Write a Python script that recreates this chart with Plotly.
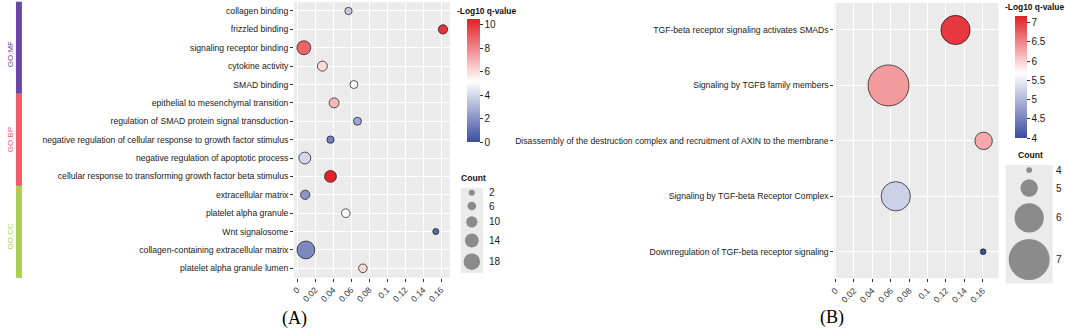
import plotly.graph_objects as go

W, H = 1065, 328

# ---------------- Panel A: GO enrichment ----------------
a_terms = [
    "collagen binding",
    "frizzled binding",
    "signaling receptor binding",
    "cytokine activity",
    "SMAD binding",
    "epithelial to mesenchymal transition",
    "regulation of SMAD protein signal transduction",
    "negative regulation of cellular response to growth factor stimulus",
    "negative regulation of apoptotic process",
    "cellular response to transforming growth factor beta stimulus",
    "extracellular matrix",
    "platelet alpha granule",
    "Wnt signalosome",
    "collagen-containing extracellular matrix",
    "platelet alpha granule lumen",
]
a_ontology = ["GO:MF", "GO:MF", "GO:MF", "GO:MF", "GO:MF",
              "GO:BP", "GO:BP", "GO:BP", "GO:BP", "GO:BP",
              "GO:CC", "GO:CC", "GO:CC", "GO:CC", "GO:CC"]
a_ratio = [0.057, 0.162, 0.0074, 0.028, 0.063, 0.041, 0.067, 0.037, 0.0085,
           0.037, 0.0089, 0.054, 0.154, 0.0097, 0.073]
a_logq = [3.6, 10.0, 8.8, 6.0, 5.2, 6.8, 2.6, 1.5, 4.0, 10.4, 2.1, 5.3, 0.8, 1.7, 6.1]
a_count = [4, 7, 14, 8, 5, 8, 5, 4, 11, 11, 7, 6, 2, 20, 6]
a_legend_counts = [2, 6, 10, 14, 18]
a_cbar_ticks = [0, 2, 4, 6, 8, 10]

# ---------------- Panel B: Reactome enrichment ----------------
b_terms = [
    "TGF-beta receptor signaling activates SMADs",
    "Signaling by TGFB family members",
    "Disassembly of the destruction complex and recruitment of AXIN to the membrane",
    "Signaling by TGF-beta Receptor Complex",
    "Downregulation of TGF-beta receptor signaling",
]
b_ratio = [0.1305, 0.0577, 0.161, 0.0656, 0.1605]
b_logq = [7.0, 6.35, 6.25, 5.25, 4.02]
b_count = [6, 7, 5, 6, 4]
b_legend_counts = [4, 5, 6, 7]
b_cbar_ticks = [4, 4.5, 5, 5.5, 6, 6.5, 7]

x_ticks = [0, 0.02, 0.04, 0.06, 0.08, 0.1, 0.12, 0.14, 0.16]
x_ticktext = ["0", "0.02", "0.04", "0.06", "0.08", "0.1", "0.12", "0.14", "0.16"]

onto_colors = {"GO:MF": "#6A46A5", "GO:BP": "#F25A6B", "GO:CC": "#AACF52"}

FONT = "Liberation Sans"


def px(x):
    return x / W


def py(y):
    return 1 - y / H


def size_a(c):
    return 6 + (c - 2) * (16.5 - 6) / (18 - 2)


def size_b(c):
    return 5.7 + (c - 4) * (41 - 5.7) / (7 - 4)


scale_a = [[0, "#3B4DA1"], [0.49, "#FFFFFF"], [1, "#E41E26"]]
scale_b = [[0, "#3B4DA1"], [0.53, "#FFFFFF"], [1, "#E41E26"]]

fig = go.Figure()

fig.add_trace(go.Scatter(
    x=a_ratio, y=a_terms, mode="markers", xaxis="x", yaxis="y", showlegend=False,
    marker=dict(
        size=[size_a(c) for c in a_count], color=a_logq, colorscale=scale_a,
        cmin=0, cmax=10.5, opacity=1, line=dict(color="#111", width=0.7),
        colorbar=dict(
            x=px(464), xanchor="left", y=py(19), yanchor="top",
            len=122.7, lenmode="pixels", thickness=12.7, thicknessmode="pixels",
            xpad=0, ypad=0, outlinewidth=0, tickvals=a_cbar_ticks,
            ticks="outside", ticklen=3, tickcolor="#333",
            tickfont=dict(size=10, color="#1a1a1a", family=FONT),
        ),
    ),
))

fig.add_trace(go.Scatter(
    x=b_ratio, y=b_terms, mode="markers", xaxis="x2", yaxis="y2", showlegend=False,
    marker=dict(
        size=[size_b(c) for c in b_count], color=b_logq, colorscale=scale_b,
        cmin=4, cmax=7.17, opacity=1, line=dict(color="#111", width=0.7),
        colorbar=dict(
            x=px(1015), xanchor="left", y=py(16), yanchor="top",
            len=122.3, lenmode="pixels", thickness=12.3, thicknessmode="pixels",
            xpad=0, ypad=0, outlinewidth=0, tickvals=b_cbar_ticks,
            ticktext=[f"{v:g}" for v in b_cbar_ticks],
            ticks="outside", ticklen=3, tickcolor="#333",
            tickfont=dict(size=10, color="#1a1a1a", family=FONT),
        ),
    ),
))


# --- size legends (drawn on an overlay pixel axis) ---
def stack(sizes, top, pad):
    centers, y = [], top
    for d in sizes:
        h = d + pad
        centers.append(y + h / 2)
        y += h
    return centers, y


shapes = []
annotations = []


def size_legend(counts, sfun, cx, top, pad, label_x, title_x, title_y):
    ds = [sfun(c) for c in counts]
    cys, bottom = stack(ds, top, pad)
    bw = max(ds) + 6
    shapes.append(dict(type="rect", xref="paper", yref="paper",
                       x0=px(cx - bw / 2), x1=px(cx + bw / 2), y0=py(bottom), y1=py(top + 1),
                       fillcolor="#EBEBEB", line=dict(width=0), layer="below"))
    fig.add_trace(go.Scatter(
        x=[cx] * len(counts), y=cys, mode="markers", xaxis="x3", yaxis="y3",
        showlegend=False, hoverinfo="skip",
        marker=dict(size=ds, color="#636363", line=dict(width=0)),
    ))
    for c, cy in zip(counts, cys):
        annotations.append(dict(text=str(c), x=px(label_x), y=py(cy), xref="paper", yref="paper",
                                xanchor="left", yanchor="middle", showarrow=False,
                                font=dict(size=10, color="#1a1a1a", family=FONT)))
    annotations.append(dict(text="<b>Count</b>", x=px(title_x), y=py(title_y), xref="paper", yref="paper",
                            xanchor="left", yanchor="middle", showarrow=False,
                            font=dict(size=8.6, color="#111", family=FONT)))


size_legend(a_legend_counts, size_a, 469, 186.7, 6, 484, 456, 178)
size_legend(b_legend_counts, size_b, 1029, 163.9, 6.5, 1054, 1016, 155)

# colorbar titles
for tx, ty in [(452, 11), (1003, 7)]:
    annotations.append(dict(text="<b>-Log10 q-value</b>", x=px(tx), y=py(ty), xref="paper", yref="paper",
                            xanchor="left", yanchor="middle", showarrow=False,
                            font=dict(size=8.4, color="#111", family=FONT)))

# ontology side bars
row_top, row_bottom = 1.7, 278
row_h = (row_bottom - row_top) / len(a_terms)
groups = []
for i, o in enumerate(a_ontology):
    if not groups or groups[-1][0] != o:
        groups.append([o, i, i])
    else:
        groups[-1][2] = i
label_offset = {"GO:MF": 6, "GO:BP": 0, "GO:CC": 4}
for o, i0, i1 in groups:
    y0 = row_top + i0 * row_h
    y1 = row_top + (i1 + 1) * row_h
    shapes.append(dict(type="rect", xref="paper", yref="paper", x0=px(11), x1=px(17),
                       y0=py(y1), y1=py(y0), fillcolor=onto_colors[o], line=dict(width=0)))
    annotations.append(dict(text=o, x=px(5.5), y=py((y0 + y1) / 2 + label_offset[o]), xref="paper", yref="paper",
                            textangle=-90, showarrow=False, xanchor="center", yanchor="middle",
                            font=dict(size=8, color=onto_colors[o], family=FONT)))

# panel backgrounds
for xr, yr in [("x", "y"), ("x2", "y2")]:
    shapes.append(dict(type="rect", xref=f"{xr} domain", yref=f"{yr} domain", x0=0, x1=1, y0=0, y1=1,
                       fillcolor="#EBEBEB", line=dict(width=0), layer="below"))

# panel letters
for txt, tx, ty in [("(A)", 291, 318), ("(B)", 831, 317)]:
    annotations.append(dict(text=txt, x=px(tx), y=py(ty), xref="paper", yref="paper",
                            xanchor="center", yanchor="middle", showarrow=False,
                            font=dict(size=18, color="#000", family="Liberation Serif")))

xcommon = dict(tickvals=x_ticks, ticktext=x_ticktext, tickangle=-45, ticks="outside", ticklen=3,
               tickwidth=1, tickcolor="#333", tickfont=dict(size=8.6, color="#333", family=FONT),
               showgrid=True, gridcolor="white", gridwidth=1, zeroline=False, showline=False,
               fixedrange=True)
ycommon = dict(type="category", ticks="outside", ticklen=3, tickwidth=1, tickcolor="#333",
               tickfont=dict(size=8.65, color="#1a1a1a", family=FONT), showgrid=True,
               gridcolor="white", gridwidth=1, zeroline=False, showline=False, autorange=False,
               fixedrange=True)

fig.update_layout(
    width=W, height=H, autosize=False,
    margin=dict(l=0, r=0, t=0, b=0),
    paper_bgcolor="white", plot_bgcolor="rgba(0,0,0,0)",
    font=dict(family=FONT),
    xaxis=dict(domain=[px(290.5), px(447)], range=[-0.0034, 0.1697], anchor="y", **xcommon),
    yaxis=dict(domain=[py(277.5), py(2.3)], anchor="x", categoryorder="array", categoryarray=a_terms,
               range=[len(a_terms) - 1 + 0.5, -0.473], **ycommon),
    xaxis2=dict(domain=[px(833.3), px(998.3)], range=[-0.0011, 0.1773], anchor="y2", **xcommon),
    yaxis2=dict(domain=[py(278.3), py(3)], anchor="x2", categoryorder="array", categoryarray=b_terms,
                range=[len(b_terms) - 1 + 0.48, -0.487], **ycommon),
    xaxis3=dict(domain=[0, 1], range=[0, W], visible=False, anchor="y3", fixedrange=True),
    yaxis3=dict(domain=[0, 1], range=[H, 0], visible=False, anchor="x3", fixedrange=True),
    shapes=shapes,
    annotations=annotations,
)

fig.write_html(
    "out.html",
    config={"displayModeBar": False},
    post_script="document.body.style.margin='0';document.body.style.padding='0';"
                "document.documentElement.style.overflow='hidden';",
)
